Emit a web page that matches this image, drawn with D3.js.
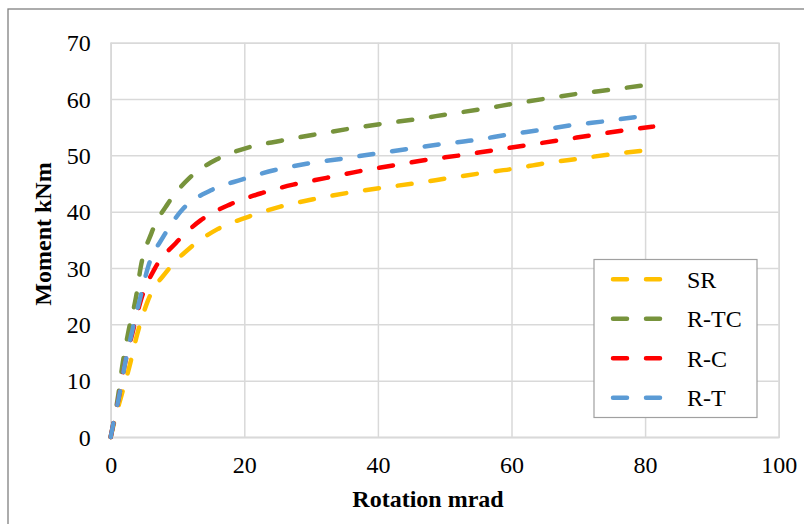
<!DOCTYPE html>
<html><head><meta charset="utf-8">
<script src="https://cdn.jsdelivr.net/npm/d3@7"></script>
<style>
html,body{margin:0;padding:0;background:#fff;}
svg{display:block;}
text{font-family:"Liberation Serif","Times New Roman",serif;}
</style></head>
<body>
<svg id="chart" width="804" height="524"></svg>
<script>
const seriesNames = ["SR", "R-TC", "R-C", "R-T"];
const seriesColors = ["#FFC000", "#77933C", "#FF0000", "#5B9BD5"];

const rotSR = [0, 0.7, 1.5, 2.8, 4.0, 5.6, 8.4, 11.9, 16.0, 20.6, 25.4, 30.3, 35.3, 40.3, 45.3, 50.3, 55.3, 60.2, 65, 70, 75, 80, 81.2];
const momSR = [0, 3.5, 6.9, 12.5, 18.4, 24.3, 29.4, 33.6, 36.9, 39.1, 40.9, 42.2, 43.3, 44.2, 45.0, 45.9, 46.8, 47.6, 48.6, 49.4, 50.2, 50.9, 51.1];

const rotRTC = [0, 0.3, 1.1, 1.8, 2.7, 3.8, 4.5, 6.1, 8.6, 11.8, 15.9, 20.3, 25.5, 30.6, 35.6, 40.6, 45.6, 50.5, 55.5, 60.5, 65.3, 70.3, 75.2, 80.2];
const momRTC = [0, 1.8, 7.2, 13.1, 19.0, 24.9, 30.2, 36.2, 41.5, 46.0, 49.3, 51.3, 52.6, 53.7, 54.7, 55.6, 56.4, 57.3, 58.2, 59.2, 60.1, 61.0, 61.7, 62.5];

const rotRC = [0, 0.3, 1.2, 2.1, 3.3, 4.6, 6.6, 9.8, 13.5, 17.9, 22.6, 27.3, 32.3, 37.3, 42.3, 47.3, 52.3, 57.3, 62.3, 67.3, 72.2, 77.2, 81.2];
const momRC = [0, 1.8, 6.9, 12.8, 18.7, 24.6, 29.9, 34.5, 38.5, 41.3, 43.3, 44.8, 46.0, 47.2, 48.2, 49.2, 50.0, 50.9, 51.8, 52.7, 53.6, 54.5, 55.1];

const rotRT = [0, 0.3, 1.2, 2.1, 3.2, 4.4, 5.6, 7.9, 10.9, 15.0, 19.6, 24.6, 29.3, 34.6, 39.6, 44.3, 49.5, 54.4, 59.6, 64.3, 69.3, 74.3, 79.2, 80.6];
const momRT = [0, 1.8, 6.9, 12.8, 18.7, 24.6, 30.2, 35.6, 40.6, 43.8, 45.7, 47.4, 48.5, 49.4, 50.3, 51.1, 52.0, 52.7, 53.7, 54.5, 55.4, 56.1, 56.9, 57.1];

const xTicks = [0, 20, 40, 60, 80, 100];
const yTicks = [0, 10, 20, 30, 40, 50, 60, 70];
const xTitle = "Rotation mrad";
const yTitle = "Moment kNm";

const allRot = [rotSR, rotRTC, rotRC, rotRT];
const allMom = [momSR, momRTC, momRC, momRT];

(function () {
const svg = d3.select("#chart");
const pLeft = 110.7, pRight = 778.7, pTop = 42.7, pBottom = 437;
const x = d3.scaleLinear().domain([0, 100]).range([pLeft, pRight]);
const y = d3.scaleLinear().domain([0, 70]).range([pBottom, pTop]);

// outer chart border
svg.append("rect").attr("x", 8).attr("y", 9).attr("width", 830).attr("height", 560)
  .attr("fill", "none").attr("stroke", "#808080").attr("stroke-width", 1.3);

// gridlines
const gridColor = "#d9d9d9";
const gx = svg.append("g").attr("transform", `translate(0,${pBottom})`)
  .call(d3.axisBottom(x).tickValues(xTicks).tickSize(-(pBottom - pTop)).tickFormat(d3.format("d")));
gx.select(".domain").attr("stroke", gridColor).attr("stroke-width", 1.5);
gx.selectAll(".tick line").attr("stroke", gridColor).attr("stroke-width", 1.5);
gx.selectAll(".tick text").attr("y", 19).attr("dy", "0.71em")
  .attr("font-size", 24).attr("fill", "#000").style("font-family", "'Liberation Serif',serif");

const gy = svg.append("g").attr("transform", `translate(${pLeft},0)`)
  .call(d3.axisLeft(y).tickValues(yTicks).tickSize(-(pRight - pLeft)).tickFormat(d3.format("d")));
gy.select(".domain").attr("stroke", gridColor).attr("stroke-width", 1.5);
gy.selectAll(".tick line").attr("stroke", gridColor).attr("stroke-width", 1.5);
gy.selectAll(".tick text").attr("x", -20).attr("dy", "0.34em")
  .attr("font-size", 24).attr("fill", "#000").style("font-family", "'Liberation Serif',serif");

// axis titles
svg.append("text").attr("x", 428).attr("y", 507).attr("text-anchor", "middle")
  .attr("font-size", 24).attr("font-weight", "bold").text(xTitle);
svg.append("text").attr("transform", "translate(51,234) rotate(-90)").attr("text-anchor", "middle")
  .attr("font-size", 24).attr("font-weight", "bold").text(yTitle);

// series
const line = d3.line().x(d => x(d[0])).y(d => y(d[1])).curve(d3.curveMonotoneX);
seriesNames.forEach((name, i) => {
  const pts = allRot[i].map((r, j) => [r, allMom[i][j]]);
  svg.append("path").datum(pts).attr("d", line)
    .attr("fill", "none").attr("stroke", seriesColors[i]).attr("stroke-width", 4.5)
    .attr("stroke-linecap", "round").attr("stroke-dasharray", "14 19");
});

// legend
const lg = svg.append("g");
lg.append("rect").attr("x", 594).attr("y", 259.5).attr("width", 163).attr("height", 158)
  .attr("fill", "#fff").attr("stroke", "#a0a0a0").attr("stroke-width", 1.2);
const rowY = [279.3, 318.7, 358.3, 397.7];
seriesNames.forEach((name, i) => {
  lg.append("line").attr("x1", 613).attr("x2", 661).attr("y1", rowY[i]).attr("y2", rowY[i])
    .attr("stroke", seriesColors[i]).attr("stroke-width", 4.5)
    .attr("stroke-linecap", "round").attr("stroke-dasharray", "14 19");
  lg.append("text").attr("x", 687).attr("y", rowY[i]).attr("dy", "0.35em")
    .attr("font-size", 24).text(name);
});
})();
</script>
</body></html>
